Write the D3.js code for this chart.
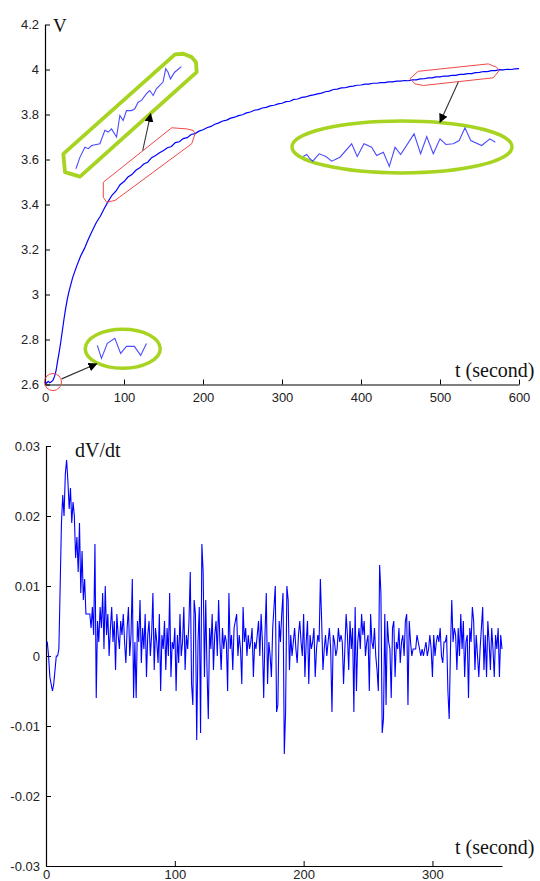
<!DOCTYPE html>
<html>
<head>
<meta charset="utf-8">
<script src="https://cdn.jsdelivr.net/npm/d3@7"></script>
<style>
  html, body { margin: 0; padding: 0; background: #fff; }
  svg { display: block; }
  .tick text { font-family: "Liberation Sans", Arial, sans-serif; font-size: 13px; fill: #222; }
  .lbl { font-family: "Liberation Serif", "Times New Roman", serif; fill: #111; }
</style>
</head>
<body>
<svg id="chart" width="540" height="881"></svg>
<script>
// ---------- Voltage during charging (top panel) ----------
const vTime = [0, 2, 4, 6, 8, 10, 12, 14, 16, 18, 20, 22, 24, 26, 28, 30,
  35, 40, 45, 50, 55, 60, 65, 70, 75, 80, 85, 90, 95, 100,
  105, 110, 115, 120, 125, 130, 135, 140, 145, 150, 155, 160, 165, 170, 175, 180,
  185, 190, 195, 200, 205, 210, 215, 220, 225, 230, 235, 240, 245, 250,
  255, 260, 265, 270, 275, 280, 285, 290, 295, 300, 305, 310, 315, 320,
  325, 330, 335, 340, 345, 350, 355, 360, 365, 370, 375, 380, 385, 390,
  395, 400, 405, 410, 415, 420, 425, 430, 435, 440, 445, 450, 455, 460,
  465, 470, 475, 480, 485, 490, 495, 500, 505, 510, 515, 520, 525, 530,
  535, 540, 545, 550, 555, 560, 565, 570, 575, 580, 585, 590, 595, 600];
const vVolt = [2.612, 2.606, 2.614, 2.608, 2.612, 2.618, 2.635, 2.662, 2.705, 2.745, 2.79, 2.84, 2.89, 2.935, 2.975, 3.008,
  3.075, 3.125, 3.17, 3.205, 3.247, 3.284, 3.32, 3.348, 3.382, 3.414, 3.442, 3.46, 3.488, 3.502,
  3.522, 3.533, 3.552, 3.563, 3.58, 3.588, 3.608, 3.618, 3.63, 3.64, 3.652, 3.658, 3.675, 3.679, 3.693, 3.697,
  3.711, 3.715, 3.726, 3.732, 3.741, 3.747, 3.757, 3.763, 3.771, 3.775, 3.784, 3.788, 3.795, 3.799,
  3.807, 3.811, 3.819, 3.822, 3.829, 3.832, 3.838, 3.841, 3.847, 3.85, 3.857, 3.859, 3.867, 3.869,
  3.876, 3.878, 3.884, 3.887, 3.892, 3.895, 3.901, 3.904, 3.911, 3.913, 3.918, 3.919, 3.924, 3.926,
  3.93, 3.931, 3.935, 3.935, 3.939, 3.939, 3.942, 3.942, 3.945, 3.945, 3.948, 3.948, 3.951, 3.95,
  3.954, 3.954, 3.958, 3.959, 3.963, 3.963, 3.967, 3.967, 3.971, 3.971, 3.974, 3.974, 3.978, 3.978,
  3.982, 3.982, 3.986, 3.987, 3.991, 3.991, 3.995, 3.995, 3.999, 3.998, 4.001, 4.0, 4.003, 4.004];

// Magnified segments shown in the three call-outs
const zoomStartT = [0, 1, 2.4, 4.2, 5.6, 7, 8.9, 10.4, 11.8];
const zoomStartV = [2.615, 2.602, 2.617, 2.622, 2.607, 2.614, 2.614, 2.605, 2.617];
const zoomMidT = [80, 84.2, 89.3, 92.8, 96.3, 104.9, 110.1, 113.5, 117, 122.2, 125.7, 129.1, 132.6, 137.8,
  141.2, 144.7, 148.2, 153.4, 156.8, 160.3, 163.7, 170.6, 173.4, 175.8, 178.3, 182.7, 189.7];
const zoomMidV = [3.42, 3.453, 3.481, 3.477, 3.486, 3.491, 3.529, 3.524, 3.533, 3.51, 3.571, 3.557, 3.585, 3.585,
  3.59, 3.609, 3.614, 3.633, 3.642, 3.628, 3.647, 3.666, 3.704, 3.694, 3.675, 3.694, 3.71];
const zoomEndT = [470, 471.8, 473.5, 474.9, 478.3, 481.8, 484.8, 489.1, 495.2, 498.1, 501.6, 505.6, 508.2, 511.7,
  514.8, 517.8, 520.7, 527.7, 531.1, 534.3, 537.7, 541.2, 544.3, 548.1, 551.2, 554.2, 557.2, 562.9, 567.2, 570];
const zoomEndV = [3.9528, 3.9554, 3.9499, 3.9468, 3.9563, 3.9528, 3.9468, 3.9519, 3.9691, 3.9528, 3.9691, 3.9647,
  3.9541, 3.9583, 3.94, 3.9647, 3.9554, 3.9819, 3.9563, 3.9785, 3.9563, 3.9755, 3.9682, 3.9691, 3.9733, 3.9896,
  3.9733, 3.9669, 3.9755, 3.9712];

// Call-out outlines, in (t, V) coordinates of the top panel
const redStartRing = { t: 10.1, v: 2.611, rt: 10.8, rv: 0.038 };
const redMidOutline = [[73.8, 3.499], [73.8, 3.432], [78.1, 3.41], [88.6, 3.418], [185.7, 3.67],
  [189.9, 3.714], [187.7, 3.729], [179.4, 3.736], [160.4, 3.741]];
const redEndOutline = [[462, 3.959], [468.4, 3.936], [478.9, 3.929], [567.5, 3.963], [575, 3.996],
  [571.8, 4.01], [561.1, 4.025], [472.5, 3.992]];
const greenStartEllipse = { t: 98.4, v: 2.759, rt: 47.5, rv: 0.0867 };
const greenMidBox = [[23.2, 3.625], [25.3, 3.544], [44.3, 3.524], [192, 3.988], [191.1, 4.032],
  [185.7, 4.055], [175.1, 4.07], [164.6, 4.067]];
const greenEndEllipse = { t: 451.9, v: 3.656, rt: 139.2, rv: 0.1156 };
const arrows = [
  [[21.1, 2.625], [65.4, 2.692]],
  [[123.7, 3.64], [133.8, 3.803]],
  [[523.2, 3.944], [500, 3.766]]
];

const topXTicks = [0, 100, 200, 300, 400, 500, 600];
const topYTicks = [2.6, 2.8, 3.0, 3.2, 3.4, 3.6, 3.8, 4.0, 4.2];

// ---------- Rate of change dV/dt (bottom panel), thousandths of V/s, one sample per second ----------
const dvdtMilli = [
  2, 2, 0, -3, -4, -5, -4, -2, 0, 0,
  1, 10, 19, 23, 20, 26, 28, 25, 21, 24,
  19, 22, 20, 14, 17, 12, 19, 9, 15, 8,
  11, 6, 6, 6, 6, 4, 7, 3, 16, -6,
  5, 2, 7, 4, 9, 1, 10, 3, 6, 0,
  4, 7, 2, 5, -2, 6, 3, 1, 5, 3,
  6, 2, -1, 4, 7, 0, 3, 11, -6, 2,
  -6, 5, 2, 8, -1, 4, 1, 6, -3, 3,
  5, 0, 3, 9, -2, 4, 2, -1, 6, -5,
  3, 1, 5, -2, 4, 0, 9, -3, 2, 1,
  4, -5, 3, -1, 6, 0, 2, 7, -2, 3,
  1, 5, 12, -4, -7, 8, 6, -12, 2, 7,
  -11, 16, 12, -3, 8, -2, -9, 4, 1, 6,
  -2, 3, 5, 0, 8, 2, -2, 4, 1, 3,
  2, -5, 9, 1, 3, -2, 4, 5, 6, 0,
  3, 1, -4, 7, 2, 4, 0, 3, 1, 2,
  4, -3, 2, 1, 3, 5, 0, 6, 2, -6,
  3, 9, -4, 2, 0, -3, 4, 7, 10, -8,
  -7, 5, 2, 6, 9, -14, -8, 10, 8, -2,
  3, 0, 2, 4, 1, -1, 3, 5, 2, 0,
  6, -3, 2, 5, -4, 3, 1, 2, 4, -3,
  1, 3, 2, 11, 5, -2, 1, 3, 0, 2,
  4, 1, -8, 3, 2, 0, 1, 4, 2, 3,
  2, -4, 1, 6, 3, -2, 5, 1, 4, -8,
  7, -5, 2, 4, 1, 6, 3, 5, 0, 2,
  3, -5, 6, 2, 1, 4, 0, -2, -5, 13,
  9, -11, -9, 6, -7, 5, 2, 1, -6, 4,
  5, -3, 2, 1, 4, -1, 2, 3, 0, 5,
  6, -7, 5, 2, 0, 1, 1, 1, 3, 2,
  1, 0, 1, 0, 1, 2, 0, 1, 3, 1,
  -3, 3, 0, 2, 3, 2, 4, 0, -1, 2,
  2, 3, -5, -9, 1, 8, 2, 4, 3, -2,
  4, 0, 6, 1, 5, -3, 2, 3, -6, 4,
  2, 7, 5, -2, 3, 0, -3, 1, 4, 7,
  -2, 3, -3, 5, 2, -2, 4, 1, -3, 3,
  1, 4, -3, 3, 1
];
const botXTicks = [0, 100, 200, 300];
const botYTicks = [-0.03, -0.02, -0.01, 0, 0.01, 0.02, 0.03];

const svg = d3.select("#chart");
const BLUE = "#0000ff";
const INSET_BLUE = "#4b4bff";
const RED = "#f04848";
const GREEN = "#a6d420";
const fmt = d => String(+d.toFixed(3));

// ---------- top panel ----------
const x1 = d3.scaleLinear().domain([0, 600]).range([45, 519]);
const y1 = d3.scaleLinear().domain([2.6, 4.2]).range([384.5, 24.5]);

const topPanel = svg.append("g");

function styleAxis(g) {
  g.select(".domain").attr("stroke", "#000").attr("stroke-width", 1.2);
  g.selectAll(".tick line").attr("stroke", "#000").attr("stroke-width", 1);
}

topPanel.append("g")
  .attr("transform", `translate(0,${y1(2.6)})`)
  .call(d3.axisBottom(x1).tickValues(topXTicks).tickFormat(fmt).tickSizeInner(-5).tickSizeOuter(0).tickPadding(8))
  .call(styleAxis);
topPanel.append("g")
  .attr("transform", `translate(${x1(0)},0)`)
  .call(d3.axisLeft(y1).tickValues(topYTicks).tickFormat(fmt).tickSizeInner(-5).tickSizeOuter(0).tickPadding(6))
  .call(styleAxis);

const vLine = d3.line().x(d => x1(d[0])).y(d => y1(d[1]));
topPanel.append("path")
  .datum(vTime.map((t, i) => [t, vVolt[i]]))
  .attr("fill", "none").attr("stroke", BLUE).attr("stroke-width", 1.2)
  .attr("d", vLine);

// call-out outlines
topPanel.append("ellipse")
  .attr("cx", x1(redStartRing.t)).attr("cy", y1(redStartRing.v))
  .attr("rx", x1(redStartRing.rt) - x1(0)).attr("ry", y1(2.6) - y1(2.6 + redStartRing.rv))
  .attr("fill", "none").attr("stroke", RED).attr("stroke-width", 1);

const closed = d3.line().x(d => x1(d[0])).y(d => y1(d[1])).curve(d3.curveLinearClosed);
[redMidOutline, redEndOutline].forEach(poly => {
  topPanel.append("path").attr("d", closed(poly))
    .attr("fill", "none").attr("stroke", RED).attr("stroke-width", 1).attr("stroke-linejoin", "round");
});

[greenStartEllipse, greenEndEllipse].forEach(e => {
  topPanel.append("ellipse")
    .attr("cx", x1(e.t)).attr("cy", y1(e.v))
    .attr("rx", x1(e.rt) - x1(0)).attr("ry", y1(2.6) - y1(2.6 + e.rv))
    .attr("fill", "none").attr("stroke", GREEN).attr("stroke-width", 3.5);
});
topPanel.append("path").attr("d", closed(greenMidBox))
  .attr("fill", "none").attr("stroke", GREEN).attr("stroke-width", 3.8).attr("stroke-linejoin", "round");

// arrows
const defs = svg.append("defs");
defs.append("marker")
  .attr("id", "head").attr("viewBox", "0 0 10 10").attr("refX", 9).attr("refY", 5)
  .attr("markerWidth", 9).attr("markerHeight", 9).attr("markerUnits", "userSpaceOnUse")
  .attr("orient", "auto")
  .append("path").attr("d", "M0,0 L10,5 L0,10 Z").attr("fill", "#000");
arrows.forEach(a => {
  topPanel.append("line")
    .attr("x1", x1(a[0][0])).attr("y1", y1(a[0][1]))
    .attr("x2", x1(a[1][0])).attr("y2", y1(a[1][1]))
    .attr("stroke", "#333").attr("stroke-width", 1.1)
    .attr("marker-end", "url(#head)");
});

// magnified traces inside the green call-outs
function magnified(ts, vs, tDom, vDom, tMain, vMain) {
  const zx = d3.scaleLinear().domain(tDom).range(tMain.map(x1));
  const zy = d3.scaleLinear().domain(vDom).range(vMain.map(y1));
  topPanel.append("path")
    .datum(ts.map((t, i) => [t, vs[i]]))
    .attr("fill", "none").attr("stroke", INSET_BLUE).attr("stroke-width", 1.1)
    .attr("d", d3.line().x(d => zx(d[0])).y(d => zy(d[1])));
}
magnified(zoomStartT, zoomStartV, [0, 12], [2.60, 2.62], [66.2, 129.5], [2.707, 2.796]);
magnified(zoomMidT, zoomMidV, [80, 190], [3.42, 3.71], [39.2, 173], [3.559, 4.013]);
magnified(zoomEndT, zoomEndV, [470, 570], [3.94, 3.99], [326.95, 570], [3.569, 3.742]);

topPanel.append("text").attr("class", "lbl")
  .attr("x", 53).attr("y", 32).attr("font-size", 19).text("V");
topPanel.append("text").attr("class", "lbl")
  .attr("x", 455).attr("y", 377).attr("font-size", 20).text("t (second)");

// ---------- bottom panel ----------
const x2 = d3.scaleLinear().domain([0, 354]).range([46, 502]);
const y2 = d3.scaleLinear().domain([-0.03, 0.03]).range([866, 446]);

const botPanel = svg.append("g");
botPanel.append("g")
  .attr("transform", `translate(0,${y2(-0.03)})`)
  .call(d3.axisBottom(x2).tickValues(botXTicks).tickFormat(fmt).tickSizeInner(-5).tickSizeOuter(0).tickPadding(4))
  .call(styleAxis);
botPanel.append("g")
  .attr("transform", `translate(${x2(0)},0)`)
  .call(d3.axisLeft(y2).tickValues(botYTicks).tickFormat(fmt).tickSizeInner(-5).tickSizeOuter(0).tickPadding(6))
  .call(styleAxis);

botPanel.append("path")
  .datum(dvdtMilli.map((m, i) => [i, m / 1000]))
  .attr("fill", "none").attr("stroke", BLUE).attr("stroke-width", 1.1)
  .attr("d", d3.line().x(d => x2(d[0])).y(d => y2(d[1])));

botPanel.append("text").attr("class", "lbl")
  .attr("x", 75).attr("y", 457).attr("font-size", 20).text("dV/dt");
botPanel.append("text").attr("class", "lbl")
  .attr("x", 455).attr("y", 854).attr("font-size", 20).text("t (second)");
</script>
</body>
</html>
